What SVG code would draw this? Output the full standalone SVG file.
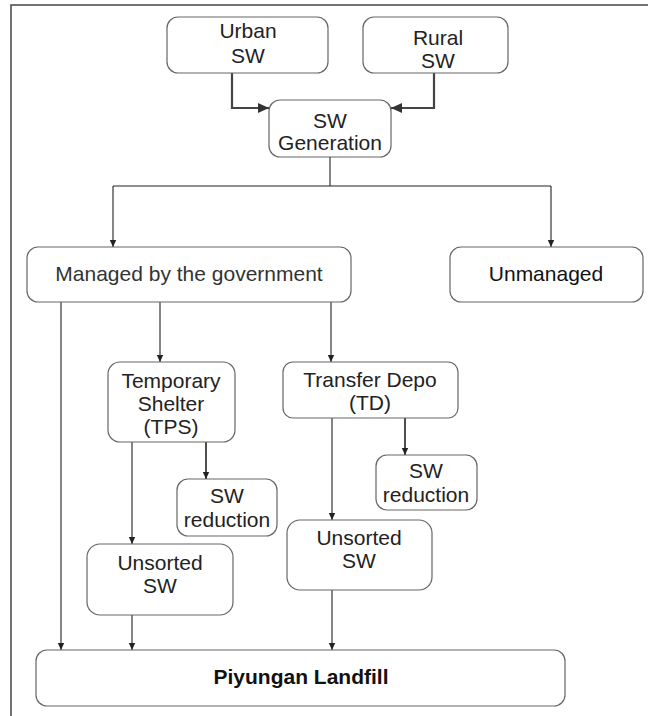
<svg xmlns="http://www.w3.org/2000/svg" width="648" height="716" viewBox="0 0 648 716">
<defs>
<style>
.box{fill:#fff;stroke:#666;stroke-width:1.2}
.t{font-family:"Liberation Sans",Arial,sans-serif;font-size:21px;fill:#222;text-anchor:middle}
.b{font-weight:bold;fill:#111}
.c{fill:none;stroke:#222;stroke-width:1.1}
.ct{fill:none;stroke:#444;stroke-width:2.2}
.cm{fill:none;stroke:#222;stroke-width:1.6}
</style>
<marker id="ah" markerWidth="8" markerHeight="8" refX="7" refY="4" orient="auto" markerUnits="userSpaceOnUse">
<path d="M0,0.8 L7,4 L0,7.2 Z" fill="#222"/>
</marker>
<marker id="ahb" markerWidth="12" markerHeight="12" refX="11" refY="6" orient="auto" markerUnits="userSpaceOnUse">
<path d="M0,1 L11,6 L0,11 Z" fill="#333"/>
</marker>
</defs>
<path d="M11,716 V5 H648" fill="none" stroke="#444" stroke-width="1.5"/>
<g id="connectors">
<path class="ct" d="M232,73 V108 H269" marker-end="url(#ahb)"/>
<path class="ct" d="M434,73 V108 H391" marker-end="url(#ahb)"/>
<path class="c" d="M330,157 V186"/>
<path class="c" d="M113,186 H551"/>
<path class="c" d="M113,186 V247" marker-end="url(#ah)"/>
<path class="c" d="M551,186 V247" marker-end="url(#ah)"/>
<path class="c" d="M61,302 V650" marker-end="url(#ah)"/>
<path class="c" d="M160,302 V362" marker-end="url(#ah)"/>
<path class="c" d="M331,302 V362" marker-end="url(#ah)"/>
<path class="c" d="M132,442 V544" marker-end="url(#ah)"/>
<path class="cm" d="M206,442 V479" marker-end="url(#ah)"/>
<path class="c" d="M332,418 V520" marker-end="url(#ah)"/>
<path class="cm" d="M405,418 V455" marker-end="url(#ah)"/>
<path class="c" d="M132,615 V650" marker-end="url(#ah)"/>
<path class="c" d="M332,590 V650" marker-end="url(#ah)"/>
</g>
<g id="urban">
<rect class="box" x="167" y="17" width="161" height="56" rx="11"/>
<text class="t" x="248" y="38">Urban</text>
<text class="t" x="248" y="63">SW</text>
</g>
<g id="rural">
<rect class="box" x="363" y="17" width="145" height="56" rx="11"/>
<text class="t" x="438" y="45">Rural</text>
<text class="t" x="438" y="68">SW</text>
</g>
<g id="generation">
<rect class="box" x="269" y="100" width="122" height="57" rx="11"/>
<text class="t" x="330" y="128">SW</text>
<text class="t" x="330" y="150">Generation</text>
</g>
<g id="managed">
<rect class="box" x="27" y="247" width="324" height="55" rx="11"/>
<text class="t" x="189" y="281" style="fill:#333">Managed by the government</text>
</g>
<g id="unmanaged">
<rect class="box" x="450" y="247" width="193" height="55" rx="11"/>
<text class="t" x="546" y="281" style="fill:#111">Unmanaged</text>
</g>
<g id="tps">
<rect class="box" x="108" y="362" width="127" height="80" rx="12"/>
<text class="t" x="171" y="388">Temporary</text>
<text class="t" x="171" y="411">Shelter</text>
<text class="t" x="171" y="434">(TPS)</text>
</g>
<g id="td">
<rect class="box" x="283" y="362" width="175" height="56" rx="10"/>
<text class="t" x="370" y="387">Transfer Depo</text>
<text class="t" x="370" y="410">(TD)</text>
</g>
<g id="reduction-tps">
<rect class="box" x="177" y="479" width="100" height="57" rx="11"/>
<text class="t" x="227" y="503">SW</text>
<text class="t" x="227" y="527">reduction</text>
</g>
<g id="reduction-td">
<rect class="box" x="376" y="455" width="101" height="55" rx="11"/>
<text class="t" x="426" y="478">SW</text>
<text class="t" x="426" y="502">reduction</text>
</g>
<g id="unsorted-tps">
<rect class="box" x="87" y="544" width="146" height="71" rx="13"/>
<text class="t" x="160" y="570">Unsorted</text>
<text class="t" x="160" y="593">SW</text>
</g>
<g id="unsorted-td">
<rect class="box" x="287" y="520" width="145" height="70" rx="13"/>
<text class="t" x="359" y="545">Unsorted</text>
<text class="t" x="359" y="568">SW</text>
</g>
<g id="landfill">
<rect class="box" x="36" y="650" width="529" height="56" rx="11"/>
<text class="t b" x="301" y="684">Piyungan Landfill</text>
</g>
</svg>
